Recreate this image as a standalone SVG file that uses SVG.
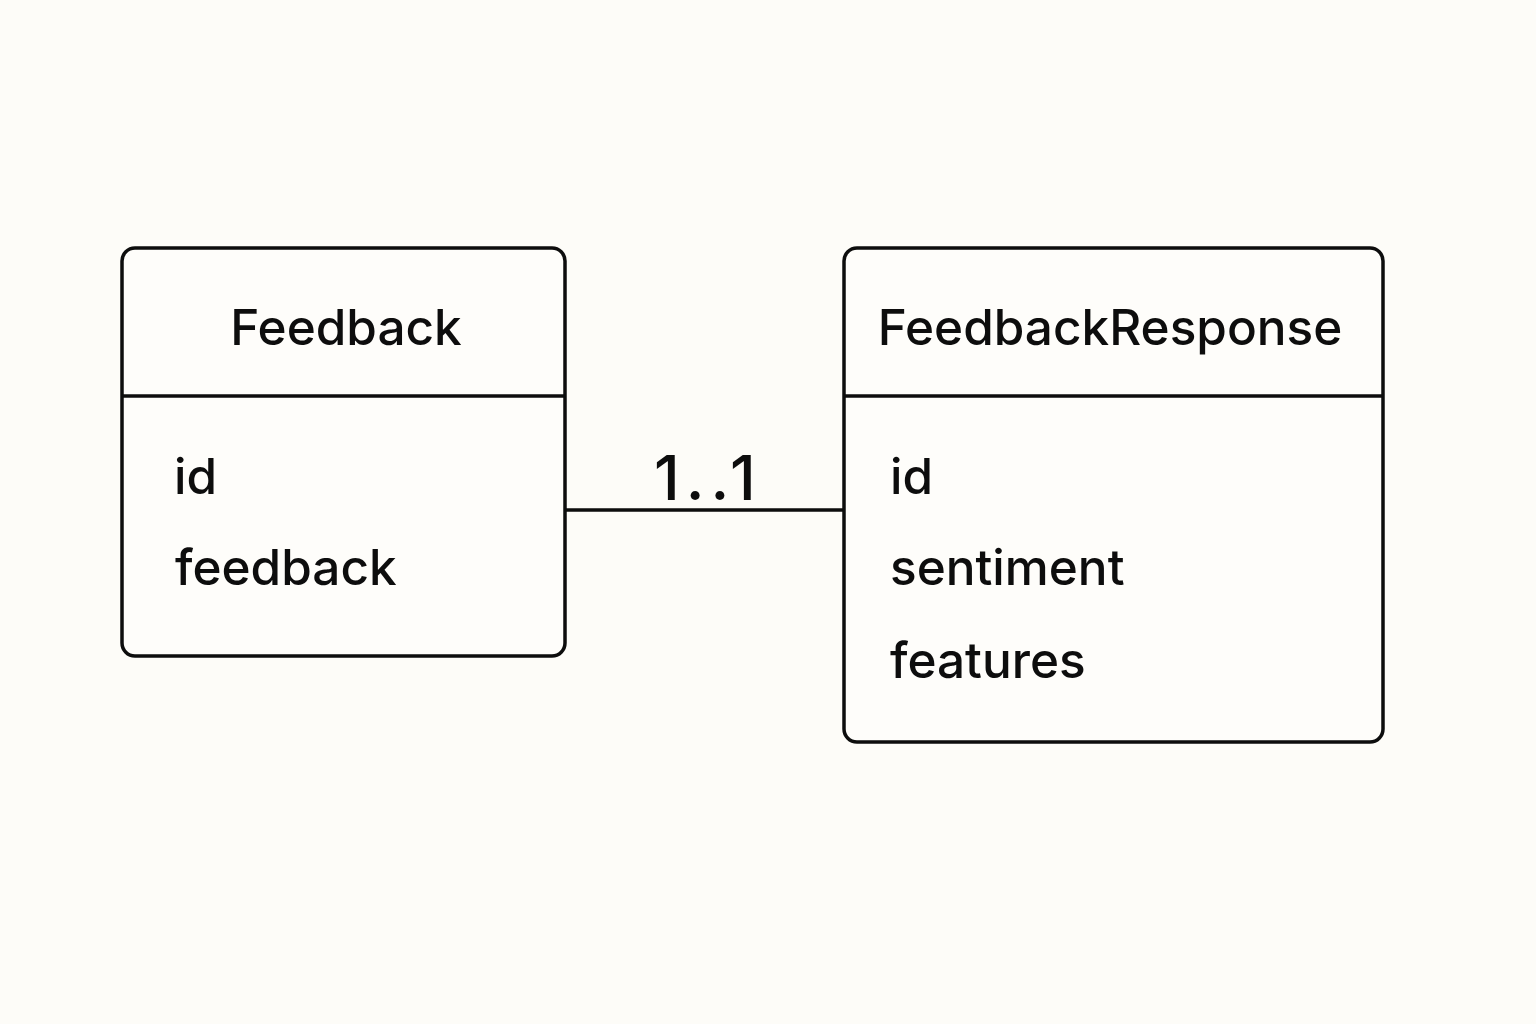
<svg xmlns="http://www.w3.org/2000/svg" width="1536" height="1024" viewBox="0 0 1536 1024">
<style>
.box{fill:#fefdfa;stroke:#0d0d0d;stroke-width:3.5}
.div{stroke:#0d0d0d;stroke-width:3.5}
.t{font-family:Inter,"Liberation Sans",Arial,sans-serif;fill:#0d0d0d;font-weight:500}
.h{font-size:49.5px;text-anchor:middle}
.a{font-size:49.5px}
.conn{stroke:#0d0d0d;stroke-width:3.5;fill:none}
</style>
<rect width="1536" height="1024" fill="#fdfcf8"/>
<g id="connectors">
<line class="conn" x1="566" y1="510" x2="843" y2="510"/>
<text class="t" x="654" y="500" font-size="62" letter-spacing="6">1..1</text>
</g>
<g id="feedback">
<rect class="box" x="122" y="248" width="443" height="408" rx="13"/>
<line class="div" x1="122" y1="396" x2="565" y2="396"/>
<text class="t h" x="346" y="345">Feedback</text>
<text class="t a" x="174" y="494">id</text>
<text class="t a" x="175" y="585">feedback</text>
</g>
<g id="feedbackresponse">
<rect class="box" x="844" y="248" width="539" height="494" rx="13"/>
<line class="div" x1="844" y1="396" x2="1383" y2="396"/>
<text class="t h" x="1110" y="345">FeedbackResponse</text>
<text class="t a" x="890" y="494">id</text>
<text class="t a" x="890" y="585">sentiment</text>
<text class="t a" x="890" y="678">features</text>
</g>
</svg>
